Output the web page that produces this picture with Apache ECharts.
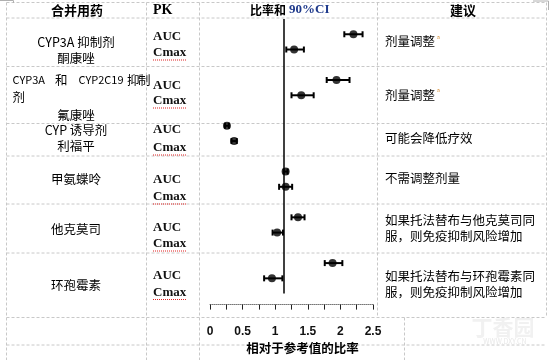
<!DOCTYPE html>
<html><head><meta charset="utf-8">
<script src="https://cdn.jsdelivr.net/npm/echarts@6/dist/echarts.min.js"></script>
<style>html,body{margin:0;padding:0;background:#fff}#c{width:549px;height:360px}</style>
</head><body><div id="c"></div>
<script>
// ---- data ----
// y categories of the forest plot, top to bottom (gapN = empty spacer rows)
const rowCats = ['gap0','酮康唑 AUC','酮康唑 Cmax','gap1','氟康唑 AUC','氟康唑 Cmax','gap2',
  '利福平 AUC','利福平 Cmax','gap3','甲氨蝶呤 AUC','甲氨蝶呤 Cmax','gap4',
  '他克莫司 AUC','他克莫司 Cmax','gap5','环孢霉素 AUC','环孢霉素 Cmax','gap6'];
const pointRows = ['酮康唑 AUC','酮康唑 Cmax','氟康唑 AUC','氟康唑 Cmax','利福平 AUC','利福平 Cmax',
  '甲氨蝶呤 AUC','甲氨蝶呤 Cmax','他克莫司 AUC','他克莫司 Cmax','环孢霉素 AUC','环孢霉素 Cmax'];
const ratio  = [2.20, 1.29, 1.94, 1.40, 0.26, 0.37, 1.16, 1.16, 1.35, 1.03, 1.88, 0.95];
const ciLow  = [2.06, 1.17, 1.79, 1.25, 0.23, 0.33, 1.13, 1.06, 1.25, 0.96, 1.76, 0.83];
const ciHigh = [2.34, 1.44, 2.14, 1.59, 0.29, 0.41, 1.19, 1.26, 1.45, 1.12, 2.03, 1.11];
const xMin = 0, xMax = 2.5, xStep = 0.5;
const refLine = 1.13;

// table texts
const headers = ['合并用药', 'PK', '比率和', '90%CI', '建议'];
const drugLines = [
  ['CYP3A 抑制剂', '酮康唑'],
  ['剂', '氟康唑'],
  ['CYP 诱导剂', '利福平'],
  ['甲氨蝶呤'],
  ['他克莫司'],
  ['环孢霉素']
];
const justifiedParts = ['CYP3A', '和', 'CYP2C19', '抑', '制'];
const pkNames = ['AUC', 'Cmax'];
const advice = [
  ['剂量调整'], ['剂量调整'], ['可能会降低疗效'], ['不需调整剂量'],
  ['如果托法替布与他克莫司同', '服，则免疫抑制风险增加'],
  ['如果托法替布与环孢霉素同', '服，则免疫抑制风险增加']
];
const xAxisName = '相对于参考值的比率';

// ---- layout ----
const CJK = "'Noto Sans CJK SC'";
const SERIF = "'Liberation Serif'";
const G = [];
const gridStyle = {stroke:'#c8c8c8', lineWidth:1, lineDash:[3,2]};
function hl(y, x1, x2){ G.push({type:'line', shape:{x1, y1:y, x2, y2:y}, style:gridStyle, silent:true}); }
function vl(x, y1, y2){ G.push({type:'line', shape:{x1:x, y1, x2:x, y2}, style:gridStyle, silent:true}); }
function tx(text, x, y, font, align, fill){
  G.push({type:'text', silent:true, style:{text, x, y, font, align:align||'left', verticalAlign:'middle', fill:fill||'#000'}});
}
[2.5, 18, 66.5, 123.5, 156, 204, 253, 317.5, 345].forEach(y => hl(y, 6.5, 546.5));
vl(6.5, 2.5, 360); vl(146.5, 2.5, 360); vl(199.5, 2.5, 360);
vl(377.5, 2.5, 317.5); vl(546.5, 2.5, 317.5); vl(404.5, 317.5, 360);
// small solid corner marks
G.push({type:'polyline', silent:true, shape:{points:[[0,0.5],[13.5,0.5],[13.5,3]]}, style:{stroke:'#b0b0b0', fill:null, lineWidth:1}});
G.push({type:'polyline', silent:true, shape:{points:[[533,1],[548.5,1],[548.5,10]]}, style:{stroke:'#b0b0b0', fill:null, lineWidth:1}});

// headers
tx(headers[0], 77, 10, 'bold 13px ' + CJK, 'center');
tx(headers[1], 153, 10, 'bold 14px ' + SERIF, 'left');
tx(headers[2], 250, 10, 'bold 12px ' + CJK, 'left');
tx(headers[3], 289, 10, 'bold 13px ' + SERIF, 'left', '#1f3a8c');
tx(headers[4], 463, 10, 'bold 13px ' + CJK, 'center');

// drug column
const f1 = '12.5px ' + CJK;
tx(drugLines[0][0], 76, 42, f1, 'center'); tx(drugLines[0][1], 76, 58, f1, 'center');
const jx = [12.5, 55, 78.5, 127, 138];
justifiedParts.forEach((p, i) => tx(p, jx[i], 80, (i === 0 || i === 2) ? '11px ' + CJK : f1, 'left'));
tx(drugLines[1][0], 12.5, 97, f1, 'left'); tx(drugLines[1][1], 76, 115, f1, 'center');
tx(drugLines[2][0], 76, 130, f1, 'center'); tx(drugLines[2][1], 76, 146, f1, 'center');
tx(drugLines[3][0], 76, 179, f1, 'center');
tx(drugLines[4][0], 76, 229, f1, 'center');
tx(drugLines[5][0], 76, 285, f1, 'center');

// PK column
const aucY = [36.5, 86, 130, 180, 228, 276];
const cmaxY = [53, 101, 148, 197, 244, 292.5];
aucY.forEach(y => tx(pkNames[0], 153, y, 'bold 13px ' + SERIF, 'left', '#111'));
cmaxY.forEach(y => {
  tx(pkNames[1], 153, y, 'bold 13px ' + SERIF, 'left', '#111');
  G.push({type:'line', silent:true, shape:{x1:153, y1:y+7, x2:186, y2:y+7}, style:{stroke:'#e02020', lineWidth:1, lineDash:[1,1]}});
});

// advice column
const advY = [[41.7], [95], [138.5], [178], [220.7, 236.5], [276.7, 292.7]];
advice.forEach((lines, i) => lines.forEach((t, j) => tx(t, 385, advY[i][j], f1, 'left')));
tx('a', 437, 37, '5px ' + CJK, 'left', '#d08020');
tx('a', 437, 90, '5px ' + CJK, 'left', '#d08020');

// faint watermark
tx('丁香园', 503, 327, 'bold 21px ' + CJK, 'center', '#f1f1f1');
tx('WWW.DXY.CN', 505, 341, '7px ' + CJK, 'center', '#e8e8e8');

// ---- chart ----
const chart = echarts.init(document.getElementById('c'), null, {renderer:'canvas'});
chart.setOption({
  animation: false,
  grid: {left: 210, right: 176, top: 19, bottom: 53, containLabel: false},
  xAxis: {
    type: 'value', min: xMin, max: xMax, interval: xStep, offset: 11,
    axisLine: {show: true, lineStyle: {color: '#777', type: 'dotted', width: 1}},
    axisTick: {show: true, length: 5, lineStyle: {color: '#222', width: 1}},
    minorTick: {show: true, splitNumber: 2, length: 5, lineStyle: {color: '#222', width: 1}},
    splitLine: {show: false},
    axisLabel: {color: '#111', fontWeight: 'bold', fontSize: 12, fontFamily: 'Liberation Sans', margin: 21,
      formatter: v => String(v)},
    name: xAxisName, nameLocation: 'middle', nameGap: 32,
    nameTextStyle: {color: '#000', fontWeight: 'bold', fontSize: 12.5, fontFamily: 'Noto Sans CJK SC', padding: [0, 0, 0, 22]}
  },
  yAxis: {type: 'category', data: rowCats, inverse: true, boundaryGap: false, show: false},
  series: [
    {
      type: 'custom',
      data: pointRows.map((r, i) => [ciLow[i], ciHigh[i], r]),
      encode: {x: [0, 1], y: 2},
      renderItem: function (params, api) {
        const yi = api.value(2);
        const p1 = api.coord([api.value(0), yi]);
        const p2 = api.coord([api.value(1), yi]);
        const h = 3;
        const st = {stroke: '#000', lineWidth: 2};
        return {type: 'group', children: [
          {type: 'line', shape: {x1: p1[0], y1: p1[1], x2: p2[0], y2: p2[1]}, style: st},
          {type: 'line', shape: {x1: p1[0], y1: p1[1] - h, x2: p1[0], y2: p1[1] + h}, style: st},
          {type: 'line', shape: {x1: p2[0], y1: p2[1] - h, x2: p2[0], y2: p2[1] + h}, style: st}
        ]};
      },
      z: 3
    },
    {
      type: 'scatter',
      data: pointRows.map((r, i) => [ratio[i], r]),
      symbol: 'circle', symbolSize: 8,
      itemStyle: {color: '#000'},
      z: 4,
      markLine: {
        silent: true, symbol: 'none', label: {show: false},
        lineStyle: {color: '#000', type: 'solid', width: 1.5},
        data: [{xAxis: refLine}]
      }
    }
  ],
  graphic: G
});
</script>
</body></html>
